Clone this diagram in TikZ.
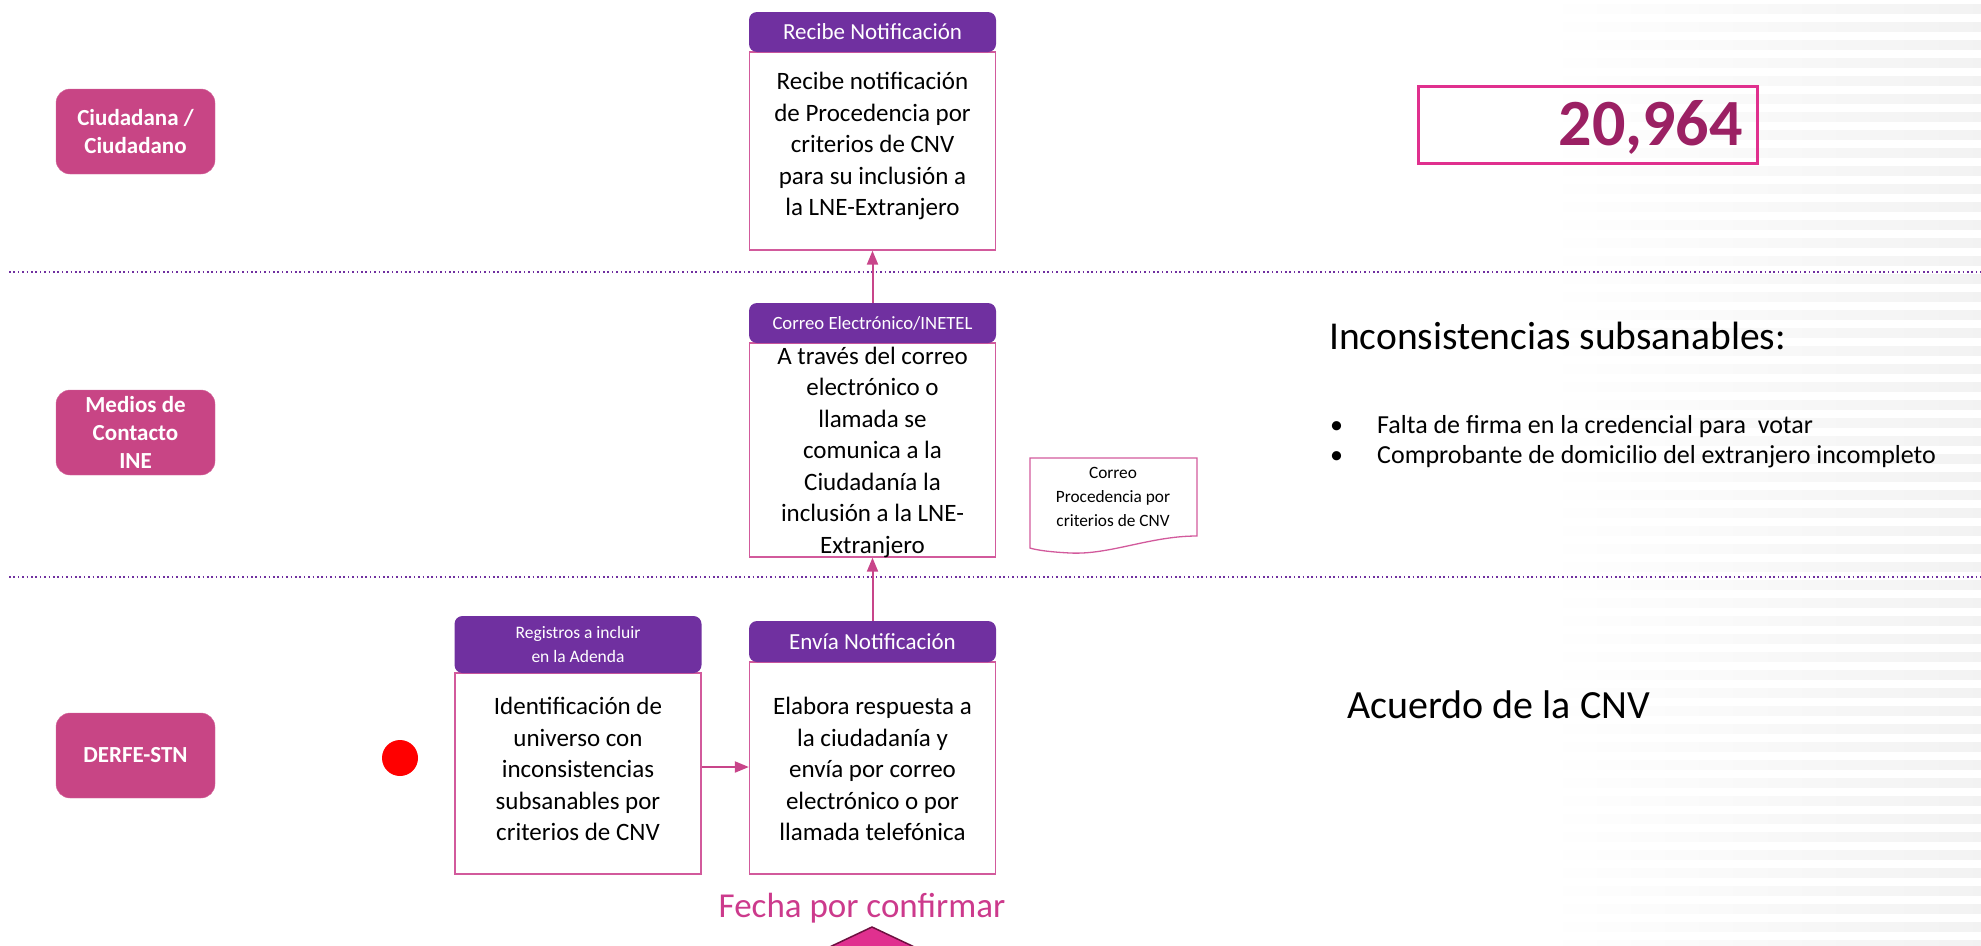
\documentclass[tikz,border=0pt]{standalone}
\usepackage{fontspec}
\setmainfont{Carlito}
\usetikzlibrary{arrows.meta,calc}
\definecolor{lanepink}{HTML}{C84585}
\definecolor{hdrpurple}{HTML}{7030A0}
\definecolor{boxpink}{HTML}{D25A9C}
\definecolor{arrowpink}{HTML}{C8458A}
\definecolor{numborder}{HTML}{E0308E}
\definecolor{numtext}{HTML}{9B2063}
\definecolor{fechapink}{HTML}{CC3A8C}
\definecolor{trifill}{HTML}{E0308F}
\definecolor{tridraw}{HTML}{6E1040}
\definecolor{dotpurple}{HTML}{7030A0}
\begin{document}
\begin{tikzpicture}[x=1pt,y=-1pt,
  lane/.style={fill=lanepink, draw=lanepink!80!white, rounded corners=14pt, minimum width=159pt, minimum height=85pt, text=white, font=\bfseries\fontsize{23}{28}\selectfont, align=center, inner sep=0pt},
  hdr/.style={fill=hdrpurple, rounded corners=8pt, minimum width=247pt, text=white, align=center, inner sep=0pt},
  body/.style={draw=boxpink, line width=1.3pt, minimum width=246pt, inner sep=0pt},
  bodytext/.style={align=center, inner sep=0pt, font=\fontsize{25}{31.5}\selectfont},
  arr/.style={draw=arrowpink, line width=2pt, -{Triangle[length=14pt,width=11pt]}},
  lanesep/.style={draw=dotpurple, line width=2pt, dash pattern=on 1.6pt off 2.8pt},
  plain/.style={inner sep=0pt, text=black},
]
\useasboundingbox (0,0) rectangle (1981,945);
% background stripes
\foreach \i in {0,...,52}{
  \fill[left color=white, right color=black!5] (1545,\i*18+4) rectangle (1981,\i*18+13);
}
% lane separators
\draw[lanesep] (9,272) -- (1981,272);
\draw[lanesep] (9,577) -- (1981,577);
% lanes
\node[lane] (ciud) at (135.5,131.5) {Ciudadana /\\Ciudadano};
\node[lane] (medios) at (135.5,432.5) {Medios de\\Contacto\\INE};
\node[lane] (derfe) at (135.5,755.5) {DERFE-STN};
% Recibe
\node[body, minimum height=198pt] (rb) at (872.5,151) {};
\node[hdr, minimum height=40pt, font=\fontsize{23}{26}\selectfont] (rh) at (872.5,32) {Recibe Notificación};
\node[bodytext] (rbt) at (872.5,146) {Recibe notificación\\de Procedencia por\\criterios de CNV\\para su inclusión a\\la LNE-Extranjero};
% Correo
\node[body, minimum height=214pt] (cb) at (872.5,450) {};
\node[hdr, minimum height=40pt, font=\fontsize{18.7}{21}\selectfont] (ch) at (872.5,323) {Correo Electrónico/INETEL};
\node[bodytext] (cbt) at (872.5,452) {A través del correo\\electrónico o\\llamada se\\comunica a la\\Ciudadanía la\\inclusión a la LNE-\\Extranjero};
% Registros
\node[body, minimum height=201pt] (gb) at (578,773.5) {};
\node[hdr, minimum height=57pt, font=\fontsize{17.5}{24}\selectfont] (gh) at (578,644.5) {Registros a incluir\\en la Adenda};
\node[bodytext] (gbt) at (578,769) {Identificación de\\universo con\\inconsistencias\\subsanables por\\criterios de CNV};
% Envia
\node[body, minimum height=212pt] (eb) at (872.5,768) {};
\node[hdr, minimum height=41pt, font=\fontsize{23}{26}\selectfont] (eh) at (872.5,641.5) {Envía Notificación};
\node[bodytext] (ebt) at (872.5,769) {Elabora respuesta a\\la ciudadanía y\\envía por correo\\electrónico o por\\llamada telefónica};
% start dot
\node[circle, fill=red, minimum size=36pt, inner sep=0pt] (start) at (400,758) {};
% arrows
\coordinate (a1) at ($(gb.east)+(0,-6.5)$);
\draw[arr] (a1) -- (a1 -| eb.west);
\draw[arr] (eh.north) -- (cb.south);
\draw[arr] (ch.north) -- (rb.south);
% document shape
\draw[draw=boxpink, line width=1.3pt] (1030,458) -- (1197,458) -- (1197,536)
  .. controls (1150,536) and (1110,555) .. (1070,553)
  .. controls (1050,552) and (1036,550) .. (1030,548) -- cycle;
\node[align=center, inner sep=0pt, font=\fontsize{17.3}{24}\selectfont] (doc) at (1113,497) {Correo\\Procedencia por\\criterios de CNV};
% number box
\node[draw=numborder, line width=3pt, minimum width=339pt, minimum height=77pt, inner sep=0pt] (num) at (1587.5,124.5) {};
\node[anchor=base east, inner sep=0pt, text=numtext, font=\bfseries\fontsize{66}{70}\selectfont] (numt) at (1743,145) {20,964};
% right texts
\node[plain, anchor=base west, font=\fontsize{39.5}{44}\selectfont] (incon) at (1329,349) {Inconsistencias subsanables:};
\node[plain, anchor=base west, font=\fontsize{26}{30}\selectfont] (b1) at (1330,433) {•};
\node[plain, anchor=base west, font=\fontsize{26}{30}\selectfont] (t1) at (1377,433) {Falta de firma en la credencial para\ \ votar};
\node[plain, anchor=base west, font=\fontsize{26}{30}\selectfont] (b2) at (1330,463) {•};
\node[plain, anchor=base west, font=\fontsize{26}{30}\selectfont] (t2) at (1377,463) {Comprobante de domicilio del extranjero incompleto};
\node[plain, anchor=base west, font=\fontsize{40}{46}\selectfont] (acuerdo) at (1347,718) {Acuerdo de la CNV};
% fecha
\node[anchor=base, inner sep=0pt, text=fechapink, font=\fontsize{35}{40}\selectfont] (fecha) at (862,917) {Fecha por confirmar};
\begin{scope}
  \clip (0,0) rectangle (1981,945);
  \filldraw[fill=trifill, draw=tridraw, line width=1.5pt] (872,927) -- (925,952) -- (819,952) -- cycle;
\end{scope}
\end{tikzpicture}
\end{document}
